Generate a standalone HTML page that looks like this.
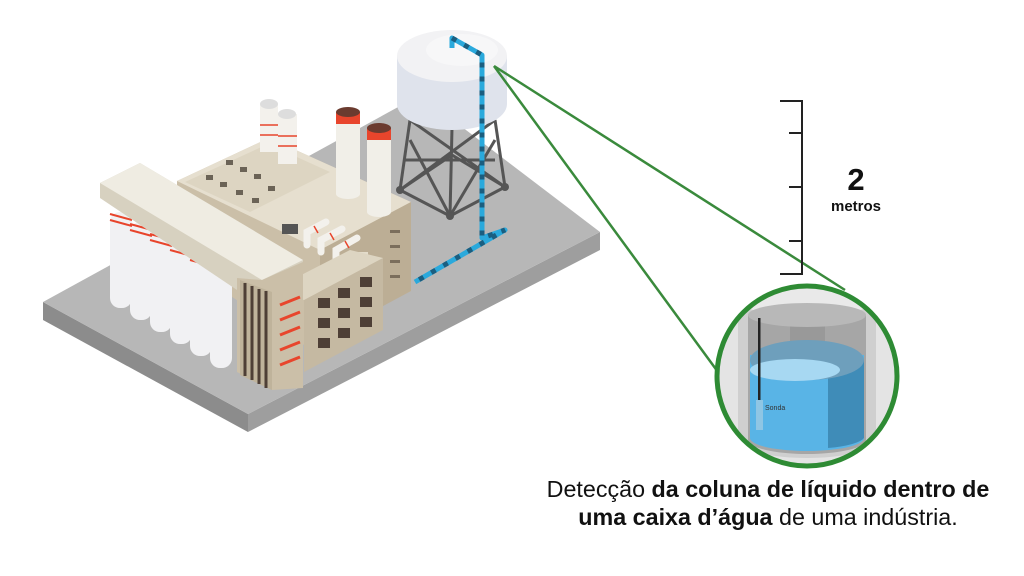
<!DOCTYPE html>
<html><head><meta charset="utf-8"><style>
html,body{margin:0;padding:0;background:#fff;}
svg{display:block;}
text{font-family:"Liberation Sans",sans-serif;}
</style></head><body>
<svg width="1024" height="576" viewBox="0 0 1024 576" xmlns="http://www.w3.org/2000/svg">
<!-- slab -->
<polygon points="43,302 248,414 248,432 43,320" fill="#8c8c8c"/>
<polygon points="248,414 600,232 600,250 248,432" fill="#9e9e9e"/>
<polygon points="43,302 420,95 600,232 248,414" fill="#b7b7b7"/>
<!-- tower legs -->
<g stroke="#555" stroke-width="3" fill="none">
<line x1="410" y1="120" x2="400" y2="190"/><line x1="452" y1="128" x2="450" y2="216"/><line x1="495" y1="120" x2="505" y2="187"/>
<line x1="400" y1="190" x2="452" y2="155"/><line x1="452" y1="155" x2="505" y2="187"/>
<line x1="400" y1="190" x2="450" y2="216"/><line x1="450" y1="216" x2="505" y2="187"/>
<line x1="410" y1="120" x2="505" y2="187"/><line x1="495" y1="120" x2="400" y2="190"/>
<line x1="410" y1="140" x2="450" y2="216"/><line x1="495" y1="140" x2="450" y2="216"/>
<line x1="405" y1="160" x2="495" y2="160"/>
</g>
<circle cx="400" cy="190" r="4" fill="#555"/><circle cx="450" cy="216" r="4" fill="#555"/><circle cx="505" cy="187" r="4" fill="#555"/>
<!-- tank -->
<path d="M397,56 L397,104 A55,26 0 0 0 507,104 L507,56 Z" fill="#dfe3ec"/>
<ellipse cx="452" cy="56" rx="55" ry="26" fill="#f2f2f4"/>
<ellipse cx="462" cy="50" rx="36" ry="16" fill="#f7f7f8"/>
<!-- pipe -->
<polyline points="452,48 452,38 482,55 482,238 505,230 415,282" fill="none" stroke="#2aa9dc" stroke-width="5" stroke-linejoin="round"/>
<polyline points="452,38 482,55 482,238 505,230 415,282" fill="none" stroke="#1a5e80" stroke-width="5" stroke-dasharray="5 9"/>
<!-- back block -->
<polygon points="177,181 269,138 411,202 411,291 304,345 177,260" fill="#cbbfa8"/>
<polygon points="177,181 269,138 411,202 320,250" fill="#e6dfcf"/>
<polygon points="185,182 268,144 330,172 250,212" fill="#ddd5c2"/>
<g fill="#6b6356">
<rect x="226" y="160" width="7" height="5"/><rect x="240" y="167" width="7" height="5"/><rect x="254" y="174" width="7" height="5"/>
<rect x="206" y="175" width="7" height="5"/><rect x="220" y="182" width="7" height="5"/><rect x="236" y="190" width="7" height="5"/>
<rect x="252" y="198" width="7" height="5"/><rect x="268" y="186" width="7" height="5"/>
</g>
<polygon points="320,250 411,202 411,291 320,340" fill="#bcae95"/>
<rect x="282" y="224" width="16" height="10" fill="#555"/>
<g fill="#7b6e5c"><rect x="390" y="230" width="10" height="3"/><rect x="390" y="245" width="10" height="3"/><rect x="390" y="260" width="10" height="3"/><rect x="390" y="275" width="10" height="3"/></g>
<!-- chimneys -->
<rect x="336" y="118" width="24" height="76" fill="#f1efe8"/><ellipse cx="348" cy="194" rx="12" ry="5" fill="#f1efe8"/>
<rect x="336" y="112" width="24" height="12" fill="#e8452c"/><ellipse cx="348" cy="112" rx="12" ry="5" fill="#6b3b2f"/>
<rect x="367" y="134" width="24" height="78" fill="#f1efe8"/><ellipse cx="379" cy="212" rx="12" ry="5" fill="#f1efe8"/>
<rect x="367" y="128" width="24" height="12" fill="#e8452c"/><ellipse cx="379" cy="128" rx="12" ry="5" fill="#6b3b2f"/>
<!-- small roof silos -->
<rect x="260" y="104" width="18" height="48" fill="#f3f1ec"/><ellipse cx="269" cy="104" rx="9" ry="5" fill="#ddd"/>
<rect x="278" y="114" width="19" height="50" fill="#f3f1ec"/><ellipse cx="287" cy="114" rx="9" ry="5" fill="#ddd"/>
<g stroke="#e8452c" stroke-width="1.5"><line x1="260" y1="125" x2="278" y2="125"/><line x1="260" y1="135" x2="278" y2="135"/><line x1="278" y1="136" x2="297" y2="136"/><line x1="278" y1="146" x2="297" y2="146"/></g>
<!-- pipes on roof -->
<g stroke="#f3f1ec" stroke-width="7" fill="none" stroke-linecap="round">
<path d="M307,245 L307,232 L326,222"/><path d="M321,252 L321,240 L342,229"/><path d="M336,262 L336,250 L357,238"/>
</g>
<g stroke="#e8452c" stroke-width="1.5"><line x1="314" y1="226" x2="318" y2="233"/><line x1="330" y1="233" x2="334" y2="240"/><line x1="345" y1="241" x2="349" y2="248"/></g>
<rect x="348" y="252" width="20" height="16" fill="#e3dccb"/>
<!-- front lower block -->
<polygon points="304,300 383,258 383,330 304,372" fill="#c5b9a2"/>
<polygon points="272,290 350,250 383,258 304,300" fill="#ddd5c2"/>
<g fill="#4e3f36">
<rect x="318" y="298" width="12" height="10"/><rect x="338" y="288" width="12" height="10"/><rect x="360" y="277" width="12" height="10"/>
<rect x="318" y="318" width="12" height="10"/><rect x="338" y="308" width="12" height="10"/><rect x="360" y="297" width="12" height="10"/>
<rect x="318" y="338" width="12" height="10"/><rect x="338" y="328" width="12" height="10"/><rect x="360" y="317" width="12" height="10"/>
</g>
<!-- silos -->
<g fill="#f1f1f3">
<rect x="110" y="212" width="22" height="96" rx="10"/><rect x="130" y="222" width="22" height="98" rx="10"/>
<rect x="150" y="232" width="22" height="100" rx="10"/><rect x="170" y="242" width="22" height="102" rx="10"/>
<rect x="190" y="252" width="22" height="104" rx="10"/><rect x="210" y="262" width="22" height="106" rx="10"/>
</g>
<g stroke="#e8452c" stroke-width="2" fill="none">
<path d="M110,214 l22,6 M110,220 l22,6 M130,224 l22,6 M130,230 l22,6 M150,234 l22,6 M150,240 l22,6 M170,244 l22,6 M170,250 l22,6 M190,254 l22,6 M190,260 l22,6 M210,264 l22,6 M210,270 l22,6"/>
</g>
<!-- beam -->
<polygon points="100,183 140,163 303,260 303,275 237,290 100,198" fill="#d7d1c0"/>
<polygon points="100,183 140,163 303,260 262,280" fill="#efece2"/>
<!-- dark window tower -->
<polygon points="237,278 262,280 303,262 303,388 272,390 237,372" fill="#cbbfa8"/>
<polygon points="240,280 272,292 272,390 240,375" fill="#bfb39b"/>
<g stroke="#4e3f36" stroke-width="3">
<line x1="245" y1="283" x2="245" y2="376"/><line x1="252" y1="286" x2="252" y2="380"/><line x1="259" y1="289" x2="259" y2="384"/><line x1="266" y1="291" x2="266" y2="388"/>
</g>
<g stroke="#e8452c" stroke-width="3" fill="none">
<path d="M280,305 l20,-8 M280,320 l20,-8 M280,335 l20,-8 M280,350 l20,-8 M280,365 l20,-8"/>
</g>
<!-- green lines -->
<g stroke="#3a8a3c" stroke-width="2.5">
<line x1="494" y1="66" x2="845" y2="290"/>
<line x1="494" y1="66" x2="718" y2="372"/>
</g>
<!-- scale -->
<g stroke="#222" stroke-width="2" fill="none">
<polyline points="780,101 802,101 802,274 780,274"/>
<line x1="789" y1="133" x2="802" y2="133"/><line x1="789" y1="187" x2="802" y2="187"/><line x1="789" y1="241" x2="802" y2="241"/>
</g>
<text x="856" y="190" font-size="31" font-weight="bold" text-anchor="middle" fill="#111">2</text>
<text x="856" y="211" font-size="15" font-weight="bold" text-anchor="middle" fill="#111">metros</text>
<!-- circle detail -->
<defs><clipPath id="c"><circle cx="807" cy="376" r="90"/></clipPath></defs>
<circle cx="807" cy="376" r="90" fill="#ececec"/>
<g clip-path="url(#c)">
<rect x="717" y="286" width="180" height="180" fill="#e4e4e4"/>
<path d="M738,300 L738,440 A69,18 0 0 0 876,440 L876,300 Z" fill="#cfcfcf"/>
<ellipse cx="807" cy="300" rx="69" ry="16" fill="#e9e9e9"/>
<path d="M748,315 L748,440 A59,14 0 0 0 866,440 L866,315 Z" fill="#a6a6a6"/>
<rect x="790" y="310" width="35" height="130" fill="#999"/>
<ellipse cx="807" cy="315" rx="59" ry="12" fill="#b8b8b8"/>
<path d="M750,355 L750,438 A57,13 0 0 0 864,438 L864,355 Z" fill="#59b4e6"/>
<path d="M828,362 L864,360 L864,438 A57,13 0 0 1 828,448 Z" fill="#3f8cb8"/>
<ellipse cx="807" cy="360" rx="57" ry="20" fill="#6e9fbc"/>
<ellipse cx="795" cy="370" rx="45" ry="11" fill="#a7d8f2"/>
<rect x="758" y="318" width="2.5" height="82" fill="#222"/>
<rect x="756" y="400" width="7" height="30" fill="#8fc6e4"/>
<text x="765" y="410" font-size="7" fill="#333">Sonda</text>
</g>
<circle cx="807" cy="376" r="90" fill="none" stroke="#2e8b34" stroke-width="5"/>
<!-- caption -->
<text x="768" y="497" font-size="23.3" text-anchor="middle" fill="#111">Detecção <tspan font-weight="bold">da coluna de líquido dentro de</tspan></text>
<text x="768" y="525" font-size="23.3" text-anchor="middle" fill="#111"><tspan font-weight="bold">uma caixa d’água</tspan> de uma indústria.</text>
</svg>
</body></html>
